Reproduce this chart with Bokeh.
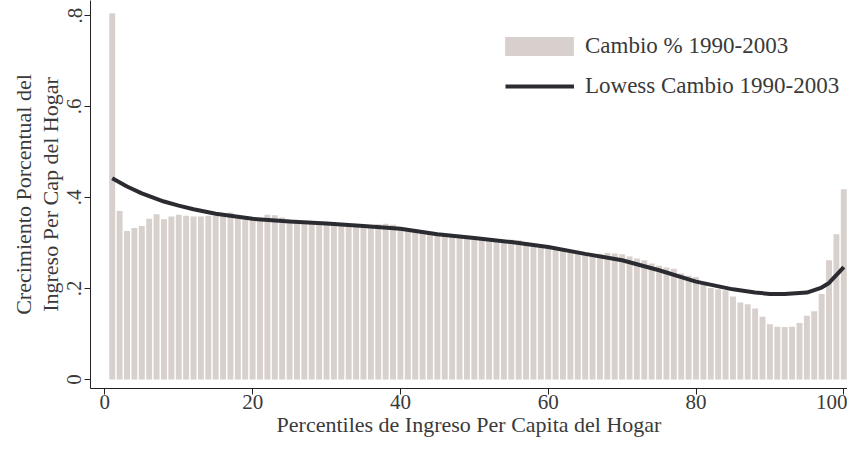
from bokeh.plotting import figure
from bokeh.models import Range1d, FixedTicker, Legend, LegendItem
from bokeh.embed import file_html
from bokeh.resources import INLINE

# Percentiles and % growth 1990-2003
percentiles = list(range(1, 101))
cambio = [
    0.805, 0.370, 0.326, 0.333, 0.337, 0.353, 0.363, 0.352, 0.358, 0.362,
    0.360, 0.358, 0.358, 0.360, 0.359, 0.365, 0.367, 0.360, 0.357, 0.355,
    0.353, 0.362, 0.361, 0.356, 0.352, 0.348, 0.346, 0.345, 0.344, 0.343,
    0.342, 0.340, 0.339, 0.338, 0.337, 0.338, 0.341, 0.342, 0.340, 0.333,
    0.330, 0.328, 0.326, 0.322, 0.318, 0.316, 0.314, 0.313, 0.311, 0.309,
    0.307, 0.305, 0.304, 0.303, 0.307, 0.306, 0.299, 0.296, 0.293, 0.291,
    0.289, 0.287, 0.284, 0.281, 0.278, 0.275, 0.276, 0.278, 0.277, 0.275,
    0.270, 0.266, 0.262, 0.255, 0.250, 0.246, 0.243, 0.233, 0.228, 0.225,
    0.210, 0.201, 0.198, 0.196, 0.182, 0.169, 0.165, 0.156, 0.138, 0.121,
    0.116, 0.115, 0.116, 0.124, 0.140, 0.150, 0.188, 0.262, 0.319, 0.418,
]

# Lowess smooth
lowess_x = [1, 3, 5, 8, 10, 12, 15, 20, 25, 30, 35, 40, 45, 50, 55, 60, 65,
            70, 75, 80, 85, 88, 90, 92, 95, 97, 98, 100]
lowess_y = [0.442, 0.424, 0.409, 0.391, 0.382, 0.374, 0.364, 0.353, 0.347,
            0.343, 0.337, 0.331, 0.319, 0.311, 0.302, 0.291, 0.276, 0.262,
            0.240, 0.215, 0.198, 0.191, 0.188, 0.188, 0.191, 0.202, 0.212,
            0.247]

x_ticks = [0, 20, 40, 60, 80, 100]
y_ticks = [0, 0.2, 0.4, 0.6, 0.8]
y_tick_labels = ["0", ".2", ".4", ".6", ".8"]

FONT = "Liberation Serif"
TXT = "#3a3a3a"

p = figure(width=847, height=442, output_backend="svg", toolbar_location=None,
           x_range=Range1d(-1.94, 100.5), y_range=Range1d(-0.02, 0.833),
           min_border_left=90, min_border_right=0, min_border_top=0,
           min_border_bottom=54)
p.outline_line_color = None
p.xgrid.visible = False
p.ygrid.visible = False
p.background_fill_color = "white"

bars = p.vbar(x=percentiles, top=cambio, bottom=0, width=0.8,
              fill_color="#d8d0cc", line_color=None)
lw = p.line(x=lowess_x, y=lowess_y, line_color="#2b2b32", line_width=4)

for ax in (p.xaxis[0], p.yaxis[0]):
    ax.axis_line_color = "#222222"
    ax.major_tick_line_color = "#222222"
    ax.major_tick_out = 6
    ax.major_tick_in = 0
    ax.minor_tick_line_color = None
    ax.major_label_text_font = FONT
    ax.major_label_text_font_size = "21px"
    ax.major_label_text_color = TXT
    ax.axis_label_text_font = FONT
    ax.axis_label_text_font_size = "22px"
    ax.axis_label_text_font_style = "normal"
    ax.axis_label_text_color = TXT

p.xaxis.ticker = FixedTicker(ticks=x_ticks)
p.xaxis.major_label_standoff = 0
p.xaxis.axis_label = "Percentiles de Ingreso Per Capita del Hogar"
p.xaxis.axis_label_standoff = 0

p.yaxis.ticker = FixedTicker(ticks=y_ticks)
p.yaxis.major_label_overrides = {t: l for t, l in zip(y_ticks, y_tick_labels)}
p.yaxis.major_label_orientation = "vertical"
p.yaxis.major_label_standoff = 3
p.yaxis.axis_label = "Crecimiento Porcentual del\nIngreso Per Cap del Hogar"
p.yaxis.axis_label_standoff = 2
p.yaxis.axis_label_text_line_height = 1.05

common = dict(orientation="vertical", label_height=20, padding=0, margin=0,
              border_line_color=None, background_fill_alpha=0,
              label_text_font=FONT, label_text_font_size="23px",
              label_text_color=TXT)

legend_bar = Legend(items=[LegendItem(label="Cambio % 1990-2003", renderers=[bars])],
                    location=(406, 329), glyph_width=86, glyph_height=24,
                    label_standoff=3, **common)
legend_line = Legend(items=[LegendItem(label="Lowess Cambio 1990-2003", renderers=[lw])],
                     location=(415, 289), glyph_width=69, glyph_height=20,
                     label_standoff=11, **common)
p.add_layout(legend_bar, "center")
p.add_layout(legend_line, "center")

open("out.html", "w").write(file_html(p, INLINE))
